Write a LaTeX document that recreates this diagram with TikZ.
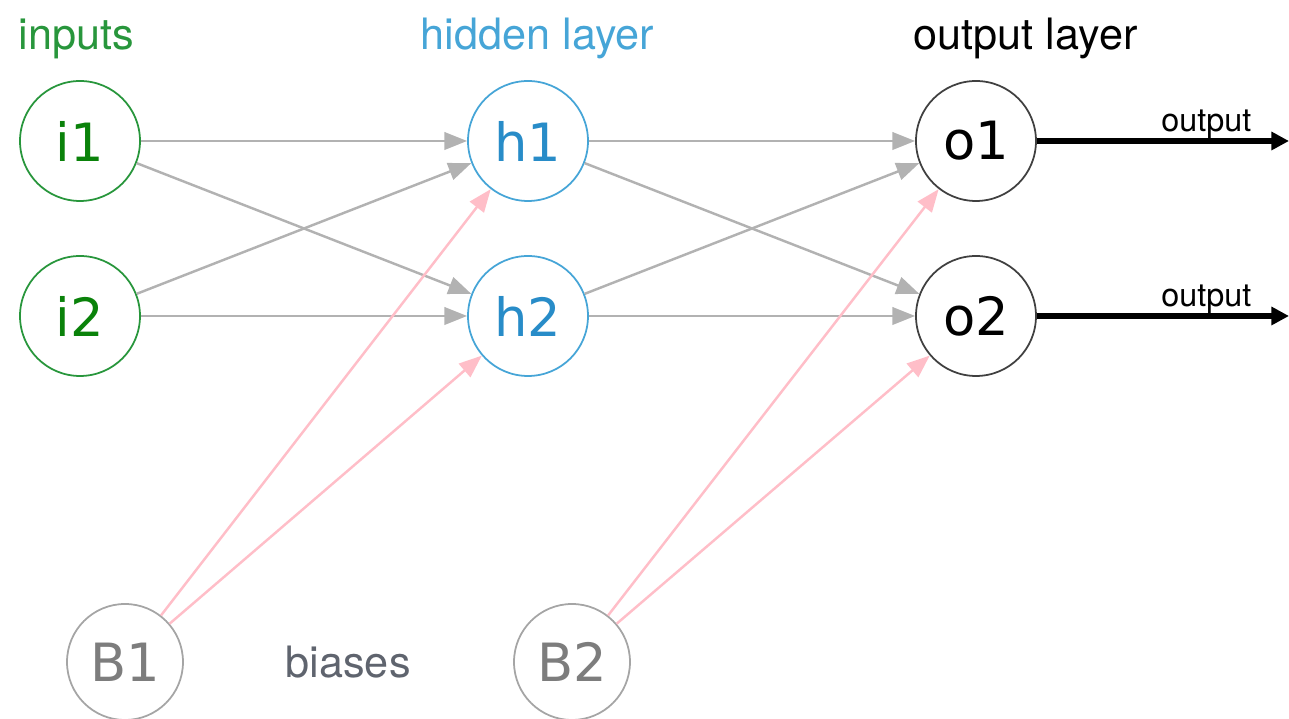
\documentclass[tikz,border=0pt]{standalone}
\usepackage{fontspec}
\setmainfont{TeX Gyre Heros}
\newfontfamily\nodefont{DejaVu Sans}
\usetikzlibrary{arrows.meta}
\definecolor{ingreen}{RGB}{40,150,60}
\definecolor{intext}{RGB}{10,130,10}
\definecolor{hidblue}{RGB}{70,165,215}
\definecolor{hidtext}{RGB}{40,140,200}
\definecolor{biasgray}{RGB}{165,165,165}
\definecolor{biastext}{RGB}{125,125,125}
\definecolor{labelgray}{RGB}{95,100,110}
\definecolor{edgegray}{RGB}{178,178,178}
\definecolor{edgepink}{RGB}{255,190,200}
\tikzset{
    neuron/.style={circle, minimum size=1.2cm, inner sep=0pt, line width=0.5pt, fill=white,
            font=\nodefont\fontsize{15}{17}\selectfont},
    inneuron/.style={neuron, draw=ingreen, text=intext},
    hidneuron/.style={neuron, draw=hidblue, text=hidtext},
    outneuron/.style={neuron, draw=black!75, text=black},
    biasneuron/.style={neuron, draw=biasgray, text=biastext, minimum size=1.16cm},
    heading/.style={anchor=base west, inner sep=0pt, font=\fontsize{12.3}{14}\selectfont},
    weight/.style={draw=edgegray, line width=0.7pt, -{Triangle[length=6.5pt, width=5pt]}},
    biasweight/.style={draw=edgepink, line width=0.7pt, -{Triangle[length=6.5pt, width=5pt]}},
    outarrow/.style={line width=1.5pt, -{Triangle[length=5pt, width=5pt]}},
}
\begin{document}
\begin{tikzpicture}
    \useasboundingbox (0, 0) rectangle (12.89, 7.19);
    %layer titles
    \node[heading, text=ingreen] (tin) at (0.18, 6.69) {inputs};
    \node[heading, text=hidblue] (thid) at (4.20, 6.69) {hidden layer};
    \node[heading, text=black] (tout) at (9.13, 6.69) {output layer};
    \node[heading, text=labelgray] (tbias) at (2.85, 0.41) {biases};
    %neurons
    \node[inneuron] (i1) at (0.80, 5.78) {i1};
    \node[inneuron] (i2) at (0.80, 4.03) {i2};
    \node[hidneuron] (h1) at (5.28, 5.78) {h1};
    \node[hidneuron] (h2) at (5.28, 4.03) {h2};
    \node[outneuron] (o1) at (9.76, 5.78) {o1};
    \node[outneuron] (o2) at (9.76, 4.03) {o2};
    \node[biasneuron] (B1) at (1.25, 0.57) {B1};
    \node[biasneuron] (B2) at (5.72, 0.57) {B2};
    %weights
    \foreach \a in {i1, i2} {
        \foreach \b in {h1, h2}
            \draw[weight] (\a) -- (\b);
    }
    \foreach \a in {h1, h2} {
        \foreach \b in {o1, o2}
            \draw[weight] (\a) -- (\b);
    }
    %bias weights
    \foreach \b in {h1, h2}
        \draw[biasweight] (B1) -- (\b);
    \foreach \b in {o1, o2}
        \draw[biasweight] (B2) -- (\b);
    %outputs
    \coordinate (end1) at (12.89, 5.78);
    \coordinate (end2) at (12.89, 4.03);
    \draw[outarrow] (o1) -- (end1);
    \draw[outarrow] (o2) -- (end2);
    \node[anchor=base east, inner sep=0pt, font=\fontsize{9.2}{11}\selectfont] (lab1) at (12.52, 5.87) {output};
    \node[anchor=base east, inner sep=0pt, font=\fontsize{9.2}{11}\selectfont] (lab2) at (12.52, 4.12) {output};
\end{tikzpicture}
\end{document}
